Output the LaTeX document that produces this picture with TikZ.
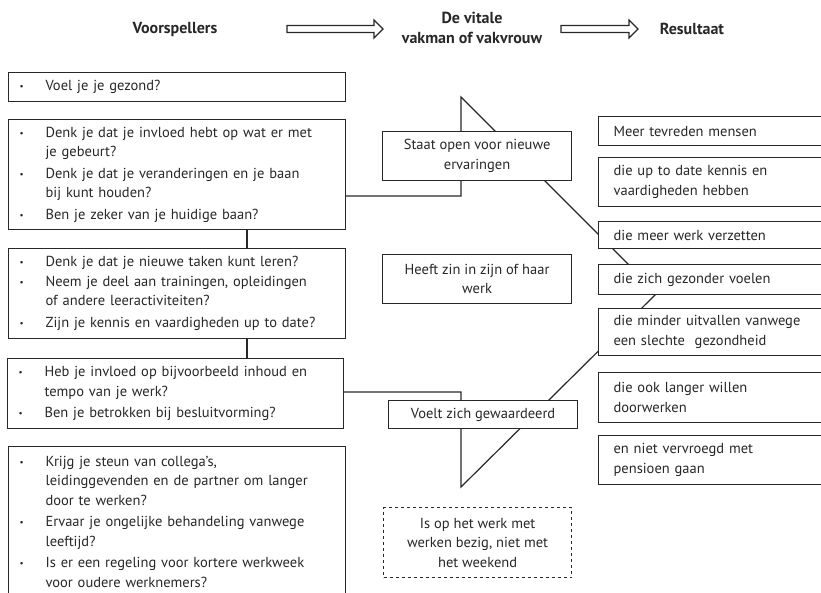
\documentclass[tikz,border=0pt]{standalone}
\usepackage{fontspec}
\setmainfont{PT Sans}
\usepackage{xcolor}
\usetikzlibrary{positioning}
\definecolor{inkt}{RGB}{40,40,40}

\newcommand{\bul}{\makebox[26pt][l]{\raisebox{1pt}{\fontsize{9}{9}\selectfont\textbullet}}}
\newcommand{\ins}{\hspace*{26pt}}

\begin{document}
\begin{tikzpicture}[x=1pt, y=-1pt, line width=1.2pt, draw=inkt, text=inkt,
  tekst/.style={font=\fontsize{14.5}{19.5}\selectfont},
  vraag/.style={tekst, draw, fill=white, anchor=north west, align=left,
                inner xsep=11pt, inner ysep=0pt, text width=315pt},
  vitaal/.style={tekst, draw, fill=white, anchor=north west, align=center,
                 inner sep=2pt, minimum width=189pt},
  uitkomst/.style={tekst, draw, fill=white, anchor=north west, align=left,
                   inner xsep=11pt, inner ysep=0pt, minimum width=250pt,
                   text width=220pt},
  kop/.style={font=\fontsize{16}{20}\selectfont\bfseries, align=center},
  pijl/.style={line width=1.1pt, fill=white}]

  \useasboundingbox (0,0) rectangle (821,592);
  \clip (0,0) rectangle (821,592);

  %% ─── Headers ─────────────────────────────────────────────────────────────
  \node[kop] (kvoor) at (175,29) {Voorspellers};
  \node[kop] (kvit)  at (472,28) {De vitale\\vakman of vakvrouw};
  \node[kop] (kres)  at (692,29) {Resultaat};

  \foreach \a/\b in {287/383, 561/638}
    \draw[pijl] (\a,25.5) -- (\b-9,25.5) -- (\b-9,20) -- (\b,29)
      -- (\b-9,38) -- (\b-9,32.5) -- (\a,32.5) -- cycle;

  %% ─── Connectors (behind the boxes) ───────────────────────────────────────
  \coordinate (as)    at (247,0);
  \coordinate (hoek1) at (461,196);
  \coordinate (top1)  at (461,97);
  \coordinate (hoek2) at (461,392);
  \coordinate (top2)  at (461,487);
  \coordinate (punt)  at (657,293);

  %% ─── Voorspellers ────────────────────────────────────────────────────────
  \node[vraag, minimum height=29pt] (v1) at (8,72) {\bul Voel je je gezond?};
  \node[vraag, minimum height=110pt] (v2) at (8,119)
    {\bul Denk je dat je invloed hebt op wat er met\\
     \ins je gebeurt?\\[2pt]
     \bul Denk je dat je veranderingen en je baan\\
     \ins bij kunt houden?\\[2pt]
     \bul Ben je zeker van je huidige baan?};
  \node[vraag, minimum height=90pt] (v3) at (8,248)
    {\bul Denk je dat je nieuwe taken kunt leren?\\
     \bul Neem je deel aan trainingen, opleidingen\\
     \ins of andere leeractiviteiten?\\[2pt]
     \bul Zijn je kennis en vaardigheden up to date?};
  \node[vraag, minimum height=70pt, text width=314pt] (v4) at (7,358)
    {\bul Heb je invloed op bijvoorbeeld inhoud en\\
     \ins tempo van je werk?\\[2pt]
     \bul Ben je betrokken bij besluitvorming?};
  \node[vraag, minimum height=150pt] (v5) at (8,446)
    {\bul Krijg je steun van collega's,\\
     \ins leidinggevenden en de partner om langer\\
     \ins door te werken?\\[2pt]
     \bul Ervaar je ongelijke behandeling vanwege\\
     \ins leeftijd?\\[2pt]
     \bul Is er een regeling voor kortere werkweek\\
     \ins voor oudere werknemers?};

  \draw (v2.south -| as) -- (v3.north -| as);
  \draw (v3.south -| as) -- (v4.north -| as);
  \draw (v2.east |- hoek1) -- (hoek1) -- (top1) -- (punt);
  \draw (v4.east |- hoek2) -- (hoek2) -- (top2) -- (punt);

  %% ─── De vitale vakman of vakvrouw ────────────────────────────────────────
  \node[vitaal, minimum height=49pt] (m1) at (382,131)
    {Staat open voor nieuwe\\ervaringen};
  \node[vitaal, minimum height=49pt] (m2) at (382,254)
    {Heeft zin in zijn of haar\\werk};
  \node[vitaal, minimum height=28pt] (m3) at (388,400)
    {Voelt zich gewaardeerd};
  \node[vitaal, dashed, minimum height=70pt, minimum width=188pt] (m4) at (383,507)
    {Is op het werk met\\werken bezig, niet met\\het weekend};

  %% ─── Resultaat ───────────────────────────────────────────────────────────
  \foreach \n/\y/\h/\txt in {1/116/29/{Meer tevreden mensen},
      2/157/49/{die up to date kennis en\\vaardigheden hebben},
      3/221/27/{die meer werk verzetten},
      4/264/30/{die zich gezonder voelen},
      5/308/47/{die minder uitvallen vanwege\\een slechte\ \ gezondheid},
      6/372/50/{die ook langer willen\\doorwerken},
      7/435/49/{en niet vervroegd met\\pensioen gaan}}
    \node[uitkomst, minimum height=\h pt] (r\n) at (598,\y) {\txt};
\end{tikzpicture}
\end{document}
